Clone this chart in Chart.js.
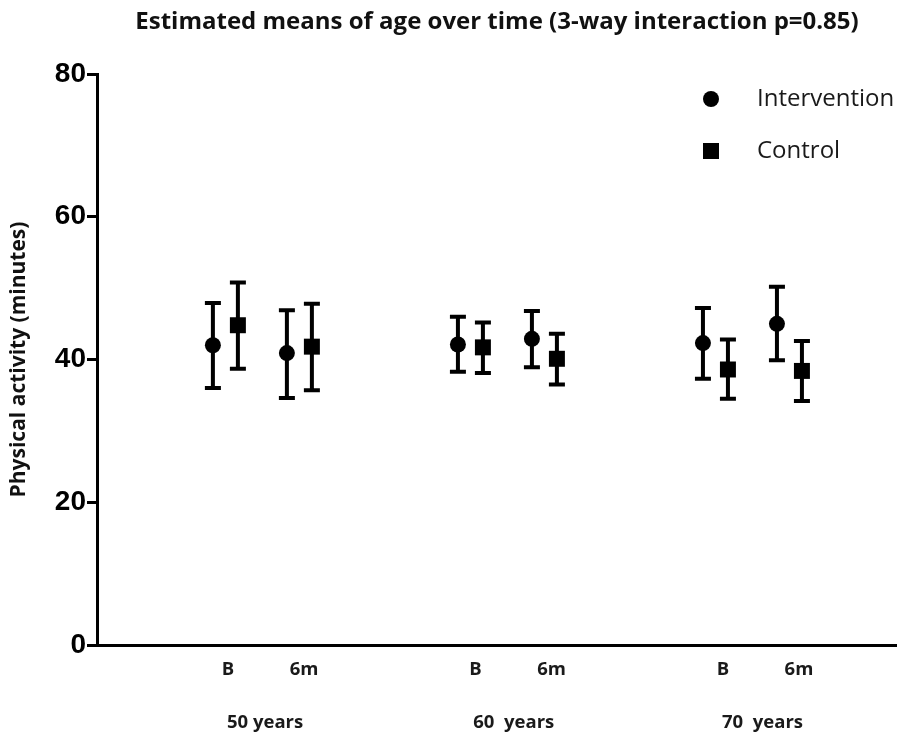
<!DOCTYPE html>
<html>
<head>
<meta charset="utf-8">
<script src="https://cdn.jsdelivr.net/npm/chart.js@4.4.1/dist/chart.umd.min.js"></script>
<style>
  html, body { margin: 0; padding: 0; background: #ffffff; }
  canvas { display: block; }
</style>
</head>
<body>
<canvas id="c" width="897" height="740"></canvas>
<script>
// ---- data ----
const groups = ['50 years', '60  years', '70  years'];
const times = ['B', '6m'];
const seriesNames = ['Intervention', 'Control'];
// order: 50y B, 50y 6m, 60y B, 60y 6m, 70y B, 70y 6m
const interventionMean = [42.0, 40.9, 42.1, 42.9, 42.3, 45.0];
const interventionLow  = [36.0, 34.6, 38.3, 38.9, 37.3, 39.9];
const interventionHigh = [47.9, 46.9, 46.0, 46.8, 47.2, 50.2];
const controlMean = [44.8, 41.8, 41.7, 40.1, 38.6, 38.4];
const controlLow  = [38.7, 35.7, 38.1, 36.5, 34.5, 34.2];
const controlHigh = [50.8, 47.8, 45.2, 43.6, 42.8, 42.6];
const yTicks = [0, 20, 40, 60, 80];

// ---- layout constants (x axis units) ----
const X_MAX = 32.65;
const START = 4.73, TIME_STEP = 3.02, GROUP_STEP = 10, SERIES_STEP = 1.02;
const LABEL_START = 5.35, LABEL_TIME_STEP = 3.1, LABEL_GROUP_STEP = 10.1;
const GROUP_LABEL_START = 6.86, GROUP_LABEL_STEP = 10.15;

function xPos(i, s) {
  const g = Math.floor(i / times.length), t = i % times.length;
  return START + g * GROUP_STEP + t * TIME_STEP + s * SERIES_STEP;
}
function makePoints(means, s) {
  return means.map((v, i) => ({ x: xPos(i, s), y: v }));
}

const tickValues = [], tickLabels = [];
groups.forEach((gName, g) => {
  times.forEach((tName, t) => {
    tickValues.push(LABEL_START + g * LABEL_GROUP_STEP + t * LABEL_TIME_STEP);
    tickLabels.push(tName);
  });
  tickValues.push(GROUP_LABEL_START + g * GROUP_LABEL_STEP);
  tickLabels.push(['', '', gName]);
});

const errorData = [
  { low: interventionLow, high: interventionHigh },
  { low: controlLow, high: controlHigh }
];

const errorBarPlugin = {
  id: 'errorBars',
  beforeDatasetsDraw(chart) {
    const ctx = chart.ctx, yScale = chart.scales.y;
    ctx.save();
    ctx.strokeStyle = '#000';
    ctx.lineWidth = 4;
    ctx.lineCap = 'butt';
    chart.data.datasets.forEach((ds, di) => {
      const meta = chart.getDatasetMeta(di);
      meta.data.forEach((pt, i) => {
        const x = pt.x;
        const yl = yScale.getPixelForValue(errorData[di].low[i]);
        const yh = yScale.getPixelForValue(errorData[di].high[i]);
        ctx.beginPath();
        ctx.moveTo(x, yl); ctx.lineTo(x, yh);
        ctx.moveTo(x - 8, yl); ctx.lineTo(x + 8, yl);
        ctx.moveTo(x - 8, yh); ctx.lineTo(x + 8, yh);
        ctx.stroke();
      });
    });
    ctx.restore();
  }
};

const legendPlugin = {
  id: 'customLegend',
  afterDraw(chart) {
    const ctx = chart.ctx, a = chart.chartArea;
    const mx = a.right - 186, tx = mx + 46;
    const rows = [a.top + 25, a.top + 77];
    ctx.save();
    ctx.fillStyle = '#000';
    ctx.beginPath();
    ctx.arc(mx, rows[0], 8, 0, Math.PI * 2);
    ctx.fill();
    ctx.fillRect(mx - 8, rows[1] - 8, 16, 16);
    ctx.font = '24px "Open Sans"';
    ctx.fillStyle = '#1a1a1a';
    ctx.textBaseline = 'middle';
    ctx.textAlign = 'left';
    ctx.fillText(seriesNames[0], tx, rows[0]);
    ctx.fillText(seriesNames[1], tx, rows[1]);
    ctx.restore();
  }
};

new Chart(document.getElementById('c'), {
  type: 'scatter',
  data: {
    datasets: [
      {
        label: seriesNames[0],
        data: makePoints(interventionMean, 0),
        pointStyle: 'circle',
        pointRadius: 8,
        pointHoverRadius: 8,
        backgroundColor: '#000',
        borderColor: '#000',
        borderWidth: 0
      },
      {
        label: seriesNames[1],
        data: makePoints(controlMean, 1),
        pointStyle: 'rect',
        pointRadius: 11.3,
        pointHoverRadius: 11.3,
        backgroundColor: '#000',
        borderColor: '#000',
        borderWidth: 0
      }
    ]
  },
  options: {
    responsive: false,
    animation: false,
    events: [],
    layout: { autoPadding: false, padding: { left: 0, right: 0, top: 0, bottom: 0 } },
    plugins: {
      legend: { display: false },
      tooltip: { enabled: false },
      title: {
        display: true,
        fullSize: false,
        text: 'Estimated means of age over time (3-way interaction p=0.85)',
        color: '#111',
        font: { family: '"Open Sans"', size: 24, weight: 'bold', lineHeight: 1.2 },
        padding: { top: 8, bottom: 37.2 }
      }
    },
    scales: {
      x: {
        type: 'linear',
        min: 0,
        max: X_MAX,
        afterBuildTicks(scale) {
          scale.ticks = tickValues.map(v => ({ value: v }));
        },
        afterFit(scale) { scale.height = 95; },
        grid: { display: false, drawTicks: false },
        border: { display: true, color: '#000', width: 3 },
        ticks: {
          autoSkip: false,
          maxRotation: 0,
          minRotation: 0,
          padding: 11,
          color: '#1a1a1a',
          font: { family: '"Open Sans"', size: 18.5, weight: 'bold', lineHeight: '26.5px' },
          callback: (v, i) => tickLabels[i]
        }
      },
      y: {
        min: 0,
        max: 80,
        afterBuildTicks(scale) {
          scale.ticks = yTicks.map(v => ({ value: v }));
        },
        afterFit(scale) { scale.width = 97; },
        grid: { drawOnChartArea: false, drawTicks: true, tickLength: 10, tickWidth: 3, tickColor: '#000', color: '#000' },
        border: { display: true, color: '#000', width: 3 },
        ticks: {
          padding: 1,
          color: '#000',
          font: { family: '"Liberation Sans"', size: 28, weight: 'bold' }
        },
        title: {
          display: true,
          text: 'Physical activity (minutes)',
          color: '#111',
          font: { family: '"Open Sans"', size: 21, weight: 'bold', lineHeight: 1.2 },
          padding: { top: 6, bottom: 0 }
        }
      }
    }
  },
  plugins: [errorBarPlugin, legendPlugin]
});
</script>
</body>
</html>
